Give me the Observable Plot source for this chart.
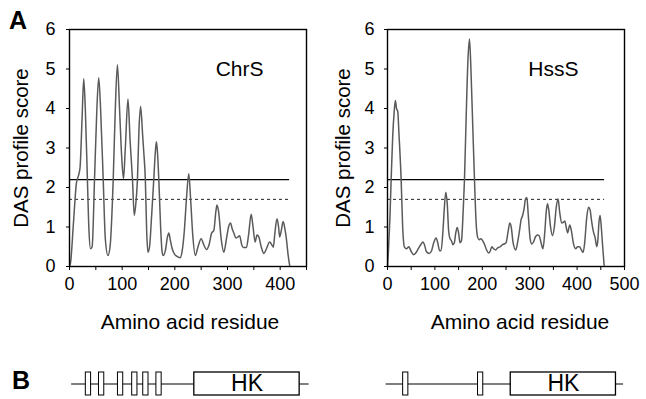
<!DOCTYPE html>
<html><head><meta charset="utf-8">
<script src="https://cdn.jsdelivr.net/npm/d3@7"></script>
<script src="https://cdn.jsdelivr.net/npm/@observablehq/plot@0.6"></script>
<style>
body{margin:0;background:#fff;}
#fig{position:relative;width:646px;height:399px;overflow:hidden;background:#fff;font-family:"Liberation Sans",Arial,sans-serif;}
.slot{position:absolute;}
.slot svg{display:block;}
.panel{position:absolute;font-weight:bold;font-size:25px;line-height:1;}
</style></head><body><div id="fig"></div>
<script>
// ---------- data ----------
const proteinNames = ["ChrS", "HssS"];
const yLabel = "DAS profile score";
const xLabel = "Amino acid residue";
const yTicks = [0, 1, 2, 3, 4, 5, 6];
const chrsXTickValues = [0, 50, 100, 150, 200, 250, 300, 350, 400, 450];
const hsssXTickValues = [0, 50, 100, 150, 200, 250, 300, 350, 400, 450, 500];
const chrsXMax = 450;
const hsssXMax = 500;
const strictCutoff = 2.2;
const looseCutoff = 1.7;
const chrsLength = 418;
const hsssLength = 458;

const chrsResidue = [0,2,8,13,17,20,24,27,30,34,37,40,43,47.5,52,55.5,59,64,68,73,77,83,87,91,95,99,102.5,106,111,115,119.6,123,126,129,132,135,139,141,144,146.5,149,152,156,160,163,165,167,169.6,173,176,178,182,186,188.6,191,195,200,205,210,214,218,222,226.5,230,234,239,244,250,255,260,265,270,274,278,280,283,288,293,298,302,305.7,309,312,316,320,323,327,330,336,340,345,348.5,352.5,356,359.5,364,369,374,380,384,387,390,394,397,399,402,405.6,409,412,415,418];
const chrsScore   = [0,0.1,1.2,2.1,2.3,2.5,3.8,4.75,4.0,2.2,0.9,0.45,0.5,2.2,4.0,4.78,4.0,2.2,0.7,0.28,0.5,2.2,4.0,5.11,4.0,2.8,2.22,3.0,4.24,3.2,2.2,1.29,1.6,2.2,3.5,4.05,3.3,2.9,2.2,0.9,0.36,0.5,1.3,2.2,2.9,3.16,2.9,2.2,1.0,0.35,0.28,0.4,0.75,0.85,0.7,0.45,0.3,0.25,0.22,0.4,0.9,1.7,2.35,1.7,0.8,0.28,0.5,0.7,0.55,0.43,0.55,0.85,0.91,1.4,1.56,1.4,0.7,0.36,0.7,1.0,1.1,0.95,0.85,0.72,0.75,0.78,0.55,0.48,0.48,0.8,1.32,1.0,0.62,0.8,0.75,0.5,0.33,0.45,0.62,0.55,0.49,0.85,1.21,1.0,0.75,0.9,1.14,0.95,0.68,0.3,0.03];

const hsssResidue = [0,2,5,7.7,11,14,16.6,19,21.7,24,28.8,32,35.8,40,45,50,55,60,65,70,75,78,82,88,93,98,102.6,106,110,113,117,120,123,126,129,132,135,138,141,144,147,150,153,156,160,162.4,166,170,173,176,180,183.5,187,190,193,197,201,205,209,213.7,217,220,224,228,233,238,242,246,250,254,258,261,265,270.7,275,279,282,284,288,291,294,297,301,304.5,308,312,316.5,320,324,328,332,335,337.5,340,344,348,352,356,360,363,367.5,371,374,377,380,384.5,388,392,397,401,405,409,412.7,416,420,424,427.5,430,434,438,441.5,444,446,448.5,451,454,457];
const hsssScore   = [0,0.4,1.2,2.2,3.3,3.9,4.2,4.0,3.92,3.4,2.2,1.0,0.49,0.45,0.5,0.38,0.3,0.35,0.45,0.55,0.62,0.55,0.38,0.33,0.4,0.62,0.72,0.6,0.4,0.4,0.9,1.5,1.88,1.6,0.9,0.7,0.65,0.55,0.6,0.85,0.99,0.85,0.6,0.65,1.5,2.2,3.8,5.3,5.76,5.0,3.5,2.2,1.1,0.75,0.68,0.7,0.65,0.55,0.42,0.34,0.4,0.5,0.45,0.42,0.48,0.5,0.55,0.57,0.6,0.85,1.1,1.0,0.6,0.42,0.65,0.95,1.2,1.25,1.45,1.7,1.75,1.3,0.7,0.57,0.62,0.75,0.8,0.78,0.6,0.45,0.9,1.4,1.59,1.45,1.0,0.78,1.0,1.5,1.71,1.4,1.1,1.12,1.15,1.0,0.85,1.05,0.9,0.6,0.45,0.5,0.5,0.42,0.36,0.6,1.2,1.5,1.43,1.2,0.9,0.73,0.5,0.7,1.1,1.29,1.0,0.5,0.03];

// panel B: domain architecture (residues)
const domainLabel = "HK";
const chrsSpan = [4, 455];
const chrsTMStart = [31, 56, 92, 119, 140, 165];
const chrsTMEnd   = [41, 66, 102, 129, 150, 175];
const chrsHK = [237, 437];
const hsssSpan = [-3, 498];
const hsssTMStart = [33, 191];
const hsssTMEnd   = [44, 202];
const hsssHK = [260, 482];

// ---------- drawing ----------
const FONT = "Liberation Sans, Arial, Helvetica, sans-serif";
const fig = document.getElementById("fig");

function place(node, left, top) {
  const d = document.createElement("div");
  d.className = "slot";
  d.style.left = left + "px";
  d.style.top = top + "px";
  d.appendChild(node);
  fig.appendChild(d);
}

function profile(cfg) {
  const data = cfg.residue.map((r, i) => ({r, s: cfg.score[i]}));
  return Plot.plot({
    width: 323, height: 340,
    marginLeft: cfg.ml, marginRight: cfg.mr, marginTop: 29, marginBottom: 74,
    style: {fontFamily: FONT, background: "white", color: "black", overflow: "visible"},
    x: {domain: [0, cfg.xMax]},
    y: {domain: [0, 6]},
    marks: [
      Plot.ruleY([strictCutoff], {x1: 0, x2: cfg.length, stroke: "black", strokeWidth: 1.1}),
      Plot.ruleY([looseCutoff], {x1: 0, x2: cfg.length, stroke: "#222", strokeWidth: 1, strokeDasharray: "3,3"}),
      Plot.line(data, {x: "r", y: "s", stroke: "#5a5a5a", strokeWidth: 1.5, curve: "monotone-x"}),
      Plot.frame({stroke: "black", strokeWidth: 1.4}),
      Plot.axisX({ticks: cfg.xTicks, tickSize: 4, tickPadding: 7, fontSize: 18, label: null,
                  tickFormat: d => (d % 100 === 0 ? String(d) : "")}),
      Plot.axisY({ticks: yTicks, tickSize: 3, tickPadding: cfg.yPad, fontSize: 18, label: null,
                  tickFormat: d => String(d)}),
      Plot.text([cfg.title], {frameAnchor: "top-right", dx: cfg.titleDx, dy: 40, lineAnchor: "middle", textAnchor: "end", fontSize: 21}),
      Plot.text([yLabel], {frameAnchor: "left", rotate: -90, textAnchor: "middle", lineAnchor: "middle", dx: cfg.yLabDx, fontSize: 20.5}),
      Plot.text([xLabel], {frameAnchor: "bottom", textAnchor: "middle", lineAnchor: "middle", dy: 56, dx: cfg.xLabDx, fontSize: 21})
    ]
  });
}

function architecture(cfg) {
  const tm = cfg.tmStart.map((a, i) => ({a, b: cfg.tmEnd[i]}));
  const hk = [{a: cfg.hk[0], b: cfg.hk[1]}];
  return Plot.plot({
    width: 323, height: 41,
    marginLeft: cfg.ml, marginRight: cfg.mr, marginTop: 14, marginBottom: 4,
    style: {fontFamily: FONT, background: "white", color: "black", overflow: "visible"},
    x: {domain: [0, cfg.xMax], axis: null},
    y: {domain: [-1, 1], axis: null},
    marks: [
      Plot.ruleY([0], {x1: cfg.span[0], x2: cfg.span[1], stroke: "black", strokeWidth: 1.2}),
      Plot.rect(tm, {x1: "a", x2: "b", y1: -1, y2: 1, fill: "white", stroke: "black", strokeWidth: 1}),
      Plot.rect(hk, {x1: "a", x2: "b", y1: -1, y2: 1, fill: "white", stroke: "black", strokeWidth: 1.3}),
      Plot.text(hk, {x: d => (d.a + d.b) / 2, y: 0, text: () => domainLabel, fontSize: 23, lineAnchor: "middle"})
    ]
  });
}

const left = {residue: chrsResidue, score: chrsScore, xMax: chrsXMax, xTicks: chrsXTickValues,
  length: chrsLength, title: proteinNames[0], ml: 69, mr: 17, yPad: 11, titleDx: -43, yLabDx: -48.5, xLabDx: 2};
const right = {residue: hsssResidue, score: hsssScore, xMax: hsssXMax, xTicks: hsssXTickValues,
  length: hsssLength, title: proteinNames[1], ml: 64, mr: 22, yPad: 10, titleDx: -46, yLabDx: -44.5, xLabDx: 14};

place(profile(left), 0, 0);
place(profile(right), 323, 0);
place(architecture({ml: 69, mr: 17, xMax: chrsXMax, span: chrsSpan, tmStart: chrsTMStart, tmEnd: chrsTMEnd, hk: chrsHK}), 0, 358);
place(architecture({ml: 64, mr: 22, xMax: hsssXMax, span: hsssSpan, tmStart: hsssTMStart, tmEnd: hsssTMEnd, hk: hsssHK}), 323, 358);

const A = document.createElement("div"); A.className = "panel"; A.textContent = "A";
A.style.left = "9px"; A.style.top = "8px"; fig.appendChild(A);
const B = document.createElement("div"); B.className = "panel"; B.textContent = "B";
B.style.left = "12px"; B.style.top = "368px"; fig.appendChild(B);
</script>
</body></html>
